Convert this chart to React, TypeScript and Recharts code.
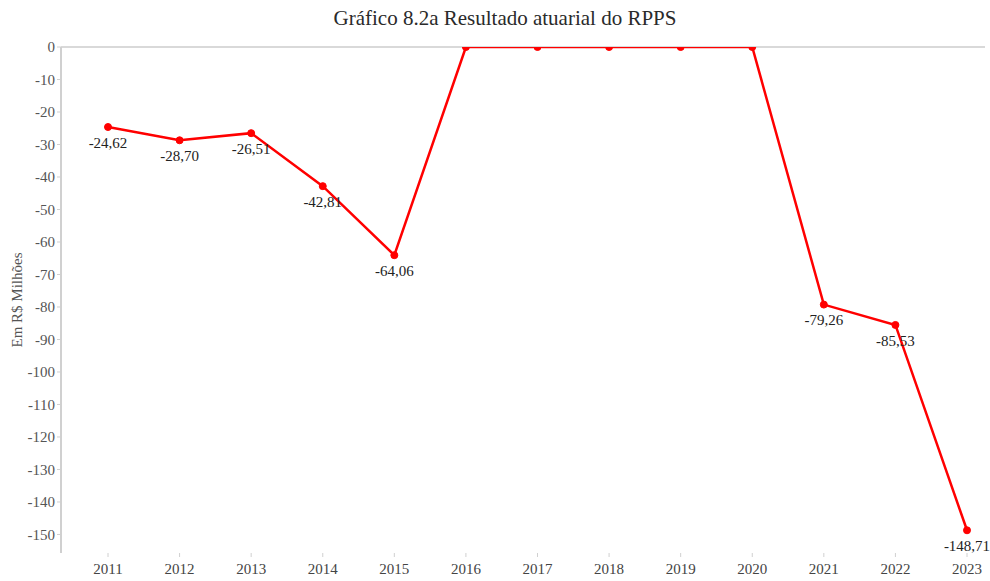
import { LineChart, Line, XAxis, YAxis, ReferenceLine, LabelList } from 'recharts';

// anos e resultado atuarial (R$ milhões)
const years = ['2011', '2012', '2013', '2014', '2015', '2016', '2017', '2018', '2019', '2020', '2021', '2022', '2023'];
const resultado = [-24.62, -28.7, -26.51, -42.81, -64.06, 0, 0, 0, 0, 0, -79.26, -85.53, -148.71];
const yTicks = [0, -10, -20, -30, -40, -50, -60, -70, -80, -90, -100, -110, -120, -130, -140, -150];

const data = years.map((ano, i) => ({ ano, valor: resultado[i] }));

const fmt = (v: any) => (v === 0 ? '' : Number(v).toFixed(2).replace('.', ','));

export default function App() {
  const font = '"Liberation Serif", "Times New Roman", serif';
  return (
    <div style={{ position: 'relative', width: 990, height: 581, background: '#fff', fontFamily: font }}>
      <style>{'body{margin:0}'}</style>
      <div
        style={{
          position: 'absolute',
          top: 0,
          left: 10,
          width: 990,
          textAlign: 'center',
          fontSize: 21,
          lineHeight: '36px',
          color: '#2a2a2a',
        }}
      >
        Gráfico 8.2a Resultado atuarial do RPPS
      </div>
      <LineChart width={990} height={581} data={data} margin={{ top: 47, right: 5, bottom: 0, left: 0 }}>
        <XAxis
          dataKey="ano"
          scale="point"
          padding={{ left: 47, right: 18 }}
          axisLine={false}
          tickSize={4}
          tickMargin={6}
          tickLine={{ stroke: '#d0d0d0' }}
          height={28}
          tick={{ fill: '#444', fontSize: 15, fontFamily: font }}
          interval={0}
        />
        <YAxis
          width={61}
          domain={[-155.7, 0]}
          ticks={yTicks}
          allowDataOverflow
          axisLine={{ stroke: '#d0d0d0', strokeWidth: 2 }}
          tickLine={{ stroke: '#d0d0d0' }}
          tickSize={4}
          tickMargin={2}
          tick={{ fill: '#555', fontSize: 15, fontFamily: font }}
          label={{
            value: 'Em R$ Milhões',
            angle: -90,
            position: 'center',
            dx: -14,
            style: { fill: '#555', fontSize: 15, fontFamily: font },
          }}
        />
        <ReferenceLine y={0} stroke="#d9d9d9" strokeWidth={2} />
        <Line
          dataKey="valor"
          stroke="#ff0000"
          strokeWidth={2.5}
          dot={{ r: 3.5, fill: '#ff0000', stroke: '#ff0000', strokeWidth: 1 }}
          isAnimationActive={false}
        >
          <LabelList
            dataKey="valor"
            position="bottom"
            offset={10}
            formatter={fmt}
            style={{ fill: '#222', fontSize: 15, fontFamily: font }}
          />
        </Line>
      </LineChart>
    </div>
  );
}
